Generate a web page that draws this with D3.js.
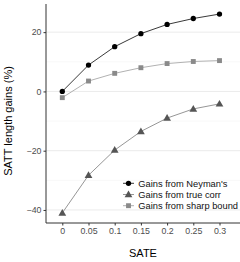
<!DOCTYPE html>
<html>
<head>
<meta charset="utf-8">
<script src="https://cdn.jsdelivr.net/npm/d3@7"></script>
<style>
  body { margin: 0; background: #fff; }
  text { font-family: "Liberation Sans", Arial, sans-serif; }
</style>
</head>
<body>
<div id="chart"></div>
<script>
const sate = [0, 0.05, 0.1, 0.15, 0.2, 0.25, 0.3];
const xTickLabels = ['0', '0.05', '0.1', '0.15', '0.2', '0.25', '0.3'];
const yTicks = [-40, -20, 0, 20];
const yMinor = [-30, -10, 10];
const neyman = [0, 8.9, 15.1, 19.5, 22.6, 24.6, 26.1];
const trueCorr = [-41, -28.3, -19.8, -13.5, -9.0, -5.9, -4.2];
const sharpBound = [-2.1, 3.5, 6.1, 8.0, 9.4, 10.1, 10.4];
const seriesNames = ["Gains from Neyman's", 'Gains from true corr', 'Gains from sharp bound'];

const width = 240, height = 262;
const panel = {left: 46, right: 240, top: 4, bottom: 223};

const x = d3.scaleLinear().domain([0, 0.3]).range([62.3, 219.5]);
const y = d3.scaleLinear().domain([-44.4, 29.5]).range([panel.bottom, panel.top]);

const svg = d3.select('#chart').append('svg')
    .attr('width', width)
    .attr('height', height);

// grid lines (horizontal only)
svg.append('g').selectAll('line.minor')
    .data(yMinor)
    .enter().append('line')
    .attr('x1', panel.left).attr('x2', panel.right)
    .attr('y1', d => y(d)).attr('y2', d => y(d))
    .attr('stroke', '#f3f3f3').attr('stroke-width', 0.6);
svg.append('g').selectAll('line.major')
    .data(yTicks)
    .enter().append('line')
    .attr('x1', panel.left).attr('x2', panel.right)
    .attr('y1', d => y(d)).attr('y2', d => y(d))
    .attr('stroke', '#ebebeb').attr('stroke-width', 1);

const series = [
    {name: seriesNames[0], values: neyman, line: '#222', fill: '#000', shape: 'circle'},
    {name: seriesNames[1], values: trueCorr, line: '#8a8a8a', fill: '#555', shape: 'triangle'},
    {name: seriesNames[2], values: sharpBound, line: '#a8a8a8', fill: '#8a8a8a', shape: 'square'}
];

const symbols = {
    circle: d3.symbol().type(d3.symbolCircle).size(22),
    triangle: d3.symbol().type(d3.symbolTriangle).size(26),
    square: d3.symbol().type(d3.symbolSquare).size(24)
};

const line = d3.line()
    .x((d, i) => x(sate[i]))
    .y(d => y(d));

series.forEach(s => {
    svg.append('path')
        .attr('d', line(s.values))
        .attr('fill', 'none')
        .attr('stroke', s.line)
        .attr('stroke-width', 0.9);
    svg.append('g').selectAll('path')
        .data(s.values)
        .enter().append('path')
        .attr('d', symbols[s.shape])
        .attr('transform', (d, i) => `translate(${x(sate[i])},${y(d) + (s.shape === 'triangle' ? 0.5 : 0)})`)
        .attr('fill', s.fill);
});

// axes
const axisColor = '#333';
const xAxis = svg.append('g')
    .attr('transform', `translate(0,${panel.bottom})`)
    .call(d3.axisBottom(x).tickValues(sate).tickFormat((d, i) => xTickLabels[i]).tickSize(2.5).tickPadding(2).tickSizeOuter(0));
xAxis.select('.domain').remove();
const yAxis = svg.append('g')
    .attr('transform', `translate(${panel.left},0)`)
    .call(d3.axisLeft(y).tickValues(yTicks).tickSize(2.5).tickPadding(2).tickSizeOuter(0));
yAxis.select('.domain').remove();
[xAxis, yAxis].forEach(a => {
    a.selectAll('.tick line').attr('stroke', axisColor);
    a.selectAll('.tick text').attr('fill', '#4d4d4d').style('font-size', '8.8px');
});
svg.append('line')
    .attr('x1', panel.left).attr('x2', panel.right)
    .attr('y1', panel.bottom).attr('y2', panel.bottom)
    .attr('stroke', axisColor).attr('stroke-width', 1);
svg.append('line')
    .attr('x1', panel.left).attr('x2', panel.left)
    .attr('y1', panel.top).attr('y2', panel.bottom)
    .attr('stroke', axisColor).attr('stroke-width', 1);

// axis titles
svg.append('text')
    .attr('x', 143).attr('y', 257)
    .attr('text-anchor', 'middle')
    .style('font-size', '11px')
    .text('SATE');
svg.append('text')
    .attr('transform', 'translate(12,121) rotate(-90)')
    .attr('text-anchor', 'middle')
    .style('font-size', '11px')
    .text('SATT length gains (%)');

// legend
const legend = svg.append('g').selectAll('g')
    .data(series)
    .enter().append('g')
    .attr('transform', (d, i) => `translate(128.5,${183.3 + i * 11.2})`);
legend.append('line')
    .attr('x1', -5.5).attr('x2', 5.5)
    .attr('stroke', d => d.line).attr('stroke-width', 0.9);
legend.append('path')
    .attr('d', d => symbols[d.shape]())
    .attr('transform', d => d.shape === 'triangle' ? 'translate(0,0.5)' : null)
    .attr('fill', d => d.fill);
legend.append('text')
    .attr('x', 9.8).attr('dy', '0.35em')
    .style('font-size', '9.3px')
    .attr('fill', '#111')
    .text(d => d.name);
</script>
</body>
</html>
